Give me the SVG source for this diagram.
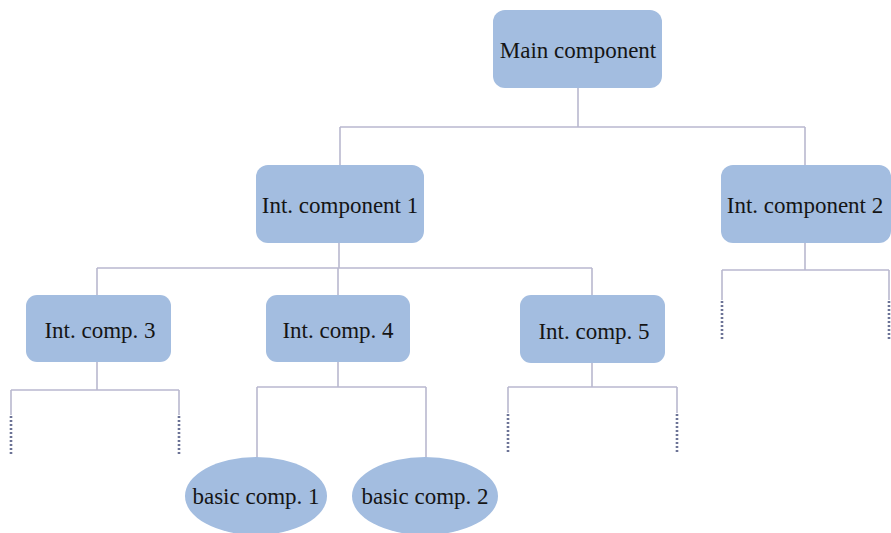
<svg xmlns="http://www.w3.org/2000/svg" width="891" height="533" viewBox="0 0 891 533">
<style>
.box{fill:#a3bde0;}
.t{font-family:"Liberation Serif","Times New Roman",serif;font-size:23px;fill:#151515;text-anchor:middle;dominant-baseline:central;}
.ln{stroke:#b9b8cf;stroke-width:1.6;fill:none;}
.dt{stroke:#6c7396;stroke-width:2.6;stroke-dasharray:2 2;fill:none;}
</style>
<rect width="891" height="533" fill="#ffffff"/>
<g id="connectors">
<path class="ln" d="M578 88V127M340 127H805M340 127V165M805 127V165"/>
<path class="ln" d="M339 243V268M97 268H592M97 268V295M338 268V295M592 268V295"/>
<path class="ln" d="M805 243V270M722 270H889M722 270V300M889 270V300"/>
<path class="ln" d="M97 362V390M11 390H179M11 390V415M179 390V415"/>
<path class="ln" d="M338 362V387M257 387H426M257 387V458M426 387V458"/>
<path class="ln" d="M592 363V387M508 387H677M508 387V413M677 387V413"/>
<path class="dt" d="M722 301V340M889 301V340M11 416V455M179 416V455M508 414V454M677 414V454"/>
</g>
<g id="main"><rect class="box" x="493" y="10" width="169" height="78" rx="12"/><text class="t" x="578" y="50">Main component</text></g>
<g id="int1"><rect class="box" x="256" y="165" width="168" height="78" rx="12"/><text class="t" x="340" y="205">Int. component 1</text></g>
<g id="int2"><rect class="box" x="721" y="165" width="170" height="78" rx="12"/><text class="t" x="805" y="205">Int. component 2</text></g>
<g id="int3"><rect class="box" x="26" y="295" width="145" height="67" rx="11"/><text class="t" x="100" y="330">Int. comp. 3</text></g>
<g id="int4"><rect class="box" x="266" y="295" width="144" height="67" rx="11"/><text class="t" x="338" y="330">Int. comp. 4</text></g>
<g id="int5"><rect class="box" x="520" y="295" width="145" height="68" rx="11"/><text class="t" x="594" y="331">Int. comp. 5</text></g>
<g id="basic1"><ellipse class="box" cx="256" cy="496" rx="71" ry="39"/><text class="t" x="256" y="496">basic comp. 1</text></g>
<g id="basic2"><ellipse class="box" cx="425" cy="496" rx="73" ry="39"/><text class="t" x="425" y="496">basic comp. 2</text></g>
</svg>
